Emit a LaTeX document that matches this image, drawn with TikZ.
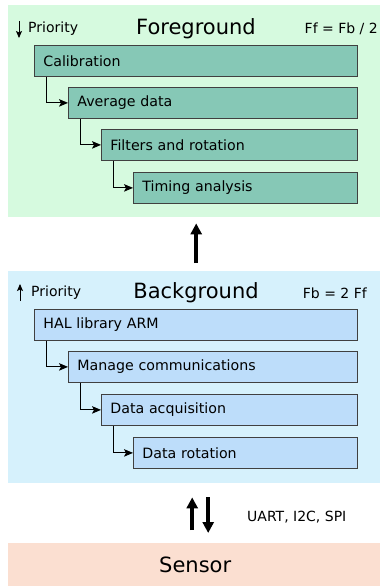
\documentclass[tikz,border=0pt]{standalone}
\usepackage{fontspec}
\setmainfont{DejaVu Sans}
\usetikzlibrary{arrows.meta}
\definecolor{fgback}{HTML}{D6FADF}
\definecolor{fgbox}{HTML}{86C8B6}
\definecolor{bgback}{HTML}{D6F1FC}
\definecolor{bgbox}{HTML}{BDDDFA}
\definecolor{snback}{HTML}{FBDFD1}

\begin{document}
\begin{tikzpicture}[
					x=1pt,y=-1pt,
					panel/.style={inner sep=0pt,anchor=north west,minimum width=372pt},
					tbox/.style={draw=black!75,line width=0.8pt,anchor=north west,minimum height=31pt,inner xsep=9pt,align=left,font=\fontsize{14.2}{17}\selectfont},
					small/.style={inner sep=0pt,font=\fontsize{14}{17}\selectfont},
					title/.style={inner sep=0pt,font=\fontsize{21}{25}\selectfont},
					parrow/.style={draw=black,line width=0.9pt,-{Stealth[length=9pt,width=7.5pt,inset=2pt]}},
					prio/.style={draw=black,line width=0.9pt,-{Stealth[length=7pt,width=6pt,inset=1.5pt]}},
					bigarrow/.style={draw=black,line width=4pt,-{Triangle[length=11pt,width=11pt]}}
					]
					\useasboundingbox (0,0) rectangle (380,586);
					% panels
					\node[panel,fill=fgback,minimum height=212pt] (fgpanel) at (8,5) {};
					\node[panel,fill=bgback,minimum height=212pt] (bgpanel) at (8,271) {};
					\node[panel,fill=snback,minimum height=43pt] (sensor) at (8,543) {};
					\node[title] (sntitle) at ([xshift=1pt]sensor.center) {Sensor};
					% foreground
					\node[title] (fgtitle) at (196,29) {Foreground};
					\node[small,anchor=west] (fgprio) at (28,29) {Priority};
					\coordinate (fgtop) at (19,21);
					\coordinate (fgbot) at (19,38);
					\draw[prio] (fgtop) -- (fgbot);
					\node[small,anchor=east] (fgfreq) at (378,29) {Ff = Fb / 2};
					\foreach \i/\x/\y/\txt in {1/34/45/Calibration,2/68/87/Average data,3/101/129/Filters and rotation,4/133/172/Timing analysis}{
						\pgfmathsetmacro\w{357-\x-18}
						\node[tbox,fill=fgbox,text width=\w pt] (f\i) at (\x,\y) {\txt};
					}
					% background
					\node[title] (bgtitle) at (196,293) {Background};
					\node[small,anchor=west] (bgprio) at (31,293) {Priority};
					\coordinate (bgtop) at (20,284);
					\coordinate (bgbot) at (20,301);
					\draw[prio] (bgbot) -- (bgtop);
					\node[small,anchor=east] (bgfreq) at (367,293) {Fb = 2 Ff};
					\foreach \i/\x/\y/\txt in {1/34/309/HAL library ARM,2/68/351/Manage communications,3/101/394/Data acquisition,4/133/437/Data rotation}{
						\pgfmathsetmacro\w{357-\x-18}
						\node[tbox,fill=bgbox,text width=\w pt] (b\i) at (\x,\y) {\txt};
					}
					\foreach \i/\j in {1/2,2/3,3/4}{
						\draw[parrow] ([xshift=12pt]f\i.south west) |- (f\j.west);
						\draw[parrow] ([xshift=12pt]b\i.south west) |- (b\j.west);
					}
					% between the blocks
					\draw[bigarrow,shorten <=8pt,shorten >=6pt] ([xshift=2pt]bgpanel.north) -- ([xshift=2pt]fgpanel.south);
					\draw[bigarrow,shorten <=13pt,shorten >=14pt] ([xshift=-2pt]sensor.north) -- ([xshift=-2pt]bgpanel.south);
					\draw[bigarrow,shorten <=14pt,shorten >=10pt] ([xshift=14pt]bgpanel.south) -- ([xshift=14pt]sensor.north);
					\node[small,anchor=west] (bus) at (247,517) {UART, I2C, SPI};
				\end{tikzpicture}
\end{document}
